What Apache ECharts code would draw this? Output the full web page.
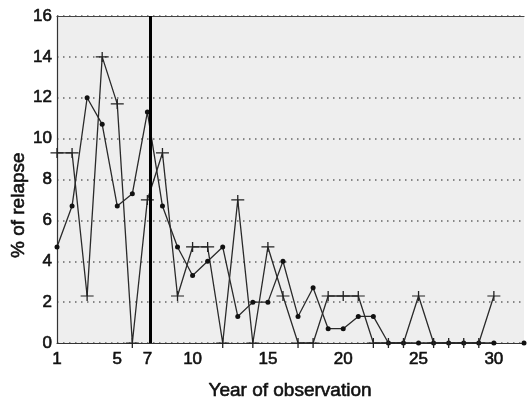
<!DOCTYPE html>
<html>
<head>
<meta charset="utf-8">
<script src="https://cdn.jsdelivr.net/npm/echarts@6/dist/echarts.min.js"></script>
<style>
html,body{margin:0;padding:0;background:#fff;}
#chart{width:527px;height:400px;}
</style>
</head>
<body>
<div id="chart"></div>
<script>
// Years of observation
var years = [1,2,3,4,5,6,7,8,9,10,11,12,13,14,15,16,17,18,19,20,21,22,23,24,25,26,27,28,29,30,31,32];
// Series with dot markers (% of relapse)
var relapseDots = [4.7,6.7,12.0,10.7,6.7,7.3,11.3,6.7,4.7,3.3,4.0,4.7,1.3,2.0,2.0,4.0,1.3,2.7,0.7,0.7,1.3,1.3,0,0,0,0,0,0,0,0,null,0];
// Series with plus markers (% of relapse)
var relapsePlus = [9.3,9.3,2.3,14.0,11.7,0,7.0,9.3,2.3,4.7,4.7,0,7.0,0,4.7,2.3,0,0,2.3,2.3,2.3,0,0,0,2.3,0,0,0,0,2.3,null,null];
// Tick labels
var xTickLabels = [1,5,7,10,15,20,25,30];
var yTickLabels = [0,2,4,6,8,10,12,14,16];
// Marked year (vertical line)
var markYear = 7.2;

var chart = echarts.init(document.getElementById('chart'), null, {renderer:'canvas'});
var font = 'Liberation Sans, Arial, Helvetica, sans-serif';
var plusPath = 'path://M0,4.4H12V5.6H0Z M5.4,0H6.6V10H5.4Z';

function pairs(arr){
  return years.map(function(y,i){ return [y, arr[i]]; });
}

chart.setOption({
  animation:false,
  backgroundColor:'#ffffff',
  grid:{left:57, right:1, top:16, bottom:57, show:true, backgroundColor:'#eeeeee', borderWidth:0},
  xAxis:[{
    type:'value', min:1, max:32, interval:1,
    axisLine:{show:true, lineStyle:{color:'#333', width:1.2}},
    axisTick:{show:false},
    splitLine:{show:false},
    axisLabel:{
      margin:8, color:'#111', fontSize:17, fontFamily:font,
      textBorderColor:'#111', textBorderWidth:0.6,
      formatter:function(v){ return xTickLabels.indexOf(v) >= 0 ? String(v) : ''; }
    }
  },{
    type:'value', min:1, max:32, position:'top',
    axisLine:{show:true, lineStyle:{color:'#444', width:1.2}},
    axisTick:{show:false}, axisLabel:{show:false}, splitLine:{show:false}
  }],
  yAxis:{
    type:'value', min:0, max:16, interval:2,
    axisLine:{show:true, lineStyle:{color:'#333', width:1.2}},
    axisTick:{show:false},
    axisLabel:{
      margin:5, color:'#111', fontSize:17, fontFamily:font,
      textBorderColor:'#111', textBorderWidth:0.6,
      formatter:function(v){ return yTickLabels.indexOf(v) >= 0 ? String(v) : ''; }
    },
    splitLine:{show:true, lineStyle:{color:'#666', width:1.5, type:[1.5,4.5]}}
  },
  graphic:[
    {type:'text', x:290, y:381, style:{text:'Year of observation', font:'19px ' + font, fill:'#111', stroke:'#111', lineWidth:0.6, textAlign:'center'}},
    {type:'text', rotation:Math.PI/2, x:9, y:258, style:{text:'% of relapse', font:'19px ' + font, fill:'#111', stroke:'#111', lineWidth:0.6}}
  ],
  series:[
    {
      type:'line', data:pairs(relapseDots), connectNulls:false,
      symbol:'circle', symbolSize:5,
      lineStyle:{color:'#2a2a2a', width:1.3},
      itemStyle:{color:'#111'},
      z:3
    },
    {
      type:'line', data:pairs(relapsePlus), connectNulls:false,
      symbol:plusPath, symbolSize:[13,10], symbolKeepAspect:false,
      lineStyle:{color:'#2a2a2a', width:1.3},
      itemStyle:{color:'#222'},
      z:3,
      markLine:{
        silent:true, symbol:'none', label:{show:false},
        lineStyle:{color:'#000', width:3, type:'solid'},
        data:[{xAxis:markYear}]
      }
    }
  ]
});
</script>
</body>
</html>
